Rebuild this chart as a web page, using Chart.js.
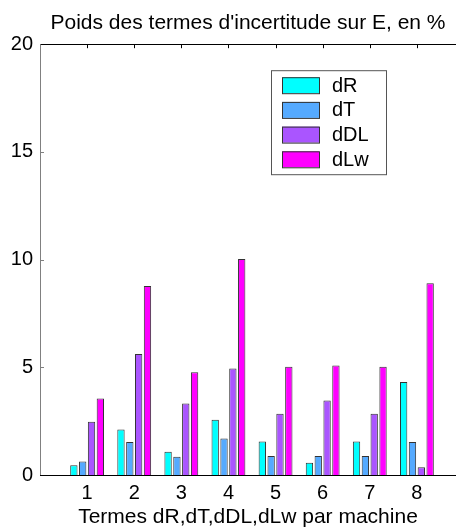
<!DOCTYPE html>
<html>
<head>
<meta charset="utf-8">
<script src="https://cdn.jsdelivr.net/npm/chart.js@4.4.0/dist/chart.umd.min.js"></script>
<style>
html, body { margin: 0; padding: 0; background: #fff; overflow: hidden; }
</style>
</head>
<body>
<canvas id="myChart" width="456" height="531"></canvas>
<script>
const machines = [1, 2, 3, 4, 5, 6, 7, 8];
const dR  = [0.45, 2.11, 1.08, 2.56, 1.56, 0.57, 1.56, 4.32];
const dT  = [0.63, 1.53, 0.85, 1.70, 0.88, 0.88, 0.88, 1.53];
const dDL = [2.47, 5.62, 3.32, 4.95, 2.84, 3.46, 2.84, 0.36];
const dLw = [3.55, 8.78, 4.77, 10.03, 5.03, 5.08, 5.03, 8.90];
const seriesNames = ['dR', 'dT', 'dDL', 'dLw'];
const yTicks = [0, 5, 10, 15, 20];

const FONT = "'Liberation Sans', Arial, sans-serif";
const colors = ['#00ffff', '#55aaff', '#aa55ff', '#ff00ff'];

const pts = vals => machines.map((m, i) => ({ x: m, y: vals[i] }));

// MATLAB style box with inward tick marks
const frame = {
    id: 'frame',
    afterDatasetsDraw(chart) {
        const { ctx, chartArea: a, scales: { x, y } } = chart;
        ctx.save();
        ctx.lineWidth = 1;
        ctx.strokeStyle = '#000';
        ctx.beginPath();
        ctx.moveTo(a.left, Math.round(a.top) + 0.5);
        ctx.lineTo(a.right, Math.round(a.top) + 0.5);
        ctx.moveTo(a.left, Math.round(a.bottom) + 0.5);
        ctx.lineTo(a.right, Math.round(a.bottom) + 0.5);
        machines.forEach(m => {
            const px = Math.round(x.getPixelForValue(m)) + 0.5;
            ctx.moveTo(px, a.top);
            ctx.lineTo(px, a.top + 4);
        });
        ctx.stroke();
        ctx.strokeStyle = '#808080';
        ctx.beginPath();
        ctx.moveTo(Math.round(a.left) + 0.5, a.top);
        ctx.lineTo(Math.round(a.left) + 0.5, a.bottom);
        yTicks.slice(1, -1).forEach(v => {
            const py = Math.round(y.getPixelForValue(v)) + 0.5;
            ctx.moveTo(a.left, py);
            ctx.lineTo(a.left + 4, py);
        });
        ctx.stroke();
        ctx.restore();
    }
};

// legend box inside the plot
const boxLegend = {
    id: 'boxLegend',
    afterDraw(chart) {
        const { ctx, chartArea: a } = chart;
        const bx = a.left + 231, by = a.top + 26, bw = 115, bh = 104;
        ctx.save();
        ctx.fillStyle = '#fff';
        ctx.fillRect(bx, by, bw, bh);
        ctx.strokeStyle = '#555';
        ctx.lineWidth = 1;
        ctx.strokeRect(bx + 0.5, by + 0.5, bw, bh);
        ctx.font = '20px ' + FONT;
        ctx.textBaseline = 'middle';
        chart.data.datasets.forEach((ds, i) => {
            const cy = by + 15 + i * 24.7;
            ctx.fillStyle = ds.backgroundColor;
            ctx.fillRect(bx + 11, cy - 8, 37, 16);
            ctx.strokeStyle = '#333';
            ctx.strokeRect(bx + 11.5, cy - 7.5, 37, 16);
            ctx.fillStyle = '#000';
            ctx.fillText(ds.label, bx + 61, cy + 1);
        });
        ctx.restore();
    }
};

const ctx = document.getElementById('myChart').getContext('2d');
const myChart = new Chart(ctx, {
    type: 'bar',
    data: {
        datasets: [dR, dT, dDL, dLw].map((vals, i) => ({
            label: seriesNames[i],
            data: pts(vals),
            backgroundColor: colors[i],
            borderColor: '#333',
            borderWidth: 1,
            categoryPercentage: 0.75,
            barPercentage: 0.83
        }))
    },
    options: {
        responsive: false,
        devicePixelRatio: 1,
        animation: false,
        layout: { padding: 0 },
        plugins: {
            legend: { display: false },
            tooltip: { enabled: false },
            title: {
                display: true,
                fullSize: false,
                text: "Poids des termes d'incertitude sur E, en %",
                color: '#000',
                font: { family: FONT, size: 21, weight: 'normal' },
                padding: { top: 11, bottom: 8 }
            }
        },
        scales: {
            x: {
                type: 'linear',
                offset: false,
                min: 0,
                max: 8.83,
                grid: { display: false, drawTicks: false },
                border: { display: false },
                afterBuildTicks: s => { s.ticks = machines.map(v => ({ value: v })); },
                afterFit: s => { s.height = 56; },
                ticks: {
                    padding: 6,
                    autoSkip: false,
                    maxRotation: 0,
                    color: '#000',
                    font: { family: FONT, size: 20 }
                },
                title: {
                    display: true,
                    text: 'Termes dR,dT,dDL,dLw par machine',
                    color: '#000',
                    font: { family: FONT, size: 21 },
                    padding: { top: 0, bottom: 1 }
                }
            },
            y: {
                min: 0,
                max: 20,
                grid: { display: false, drawTicks: false },
                border: { display: false },
                afterFit: s => { s.width = 40; },
                ticks: {
                    stepSize: 5,
                    padding: 7,
                    color: '#000',
                    font: { family: FONT, size: 20 }
                }
            }
        }
    },
    plugins: [frame, boxLegend]
});
</script>
</body>
</html>
